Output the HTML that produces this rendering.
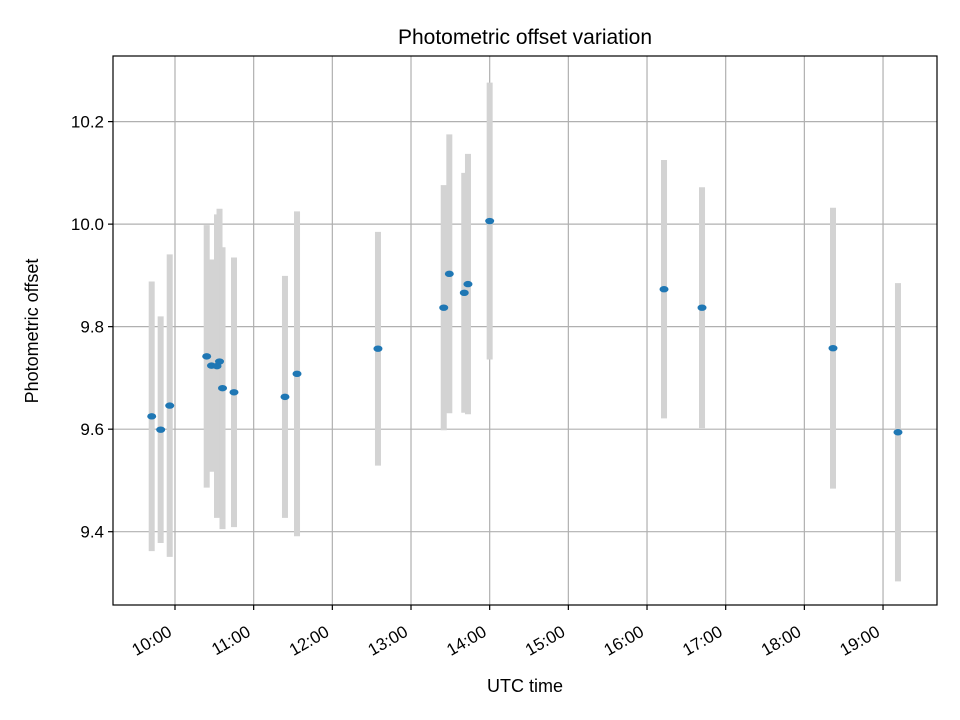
<!DOCTYPE html>
<html><head><meta charset="utf-8"><style>
body{margin:0;background:#fff;}
svg{display:block;font-family:"Liberation Sans","DejaVu Sans",sans-serif;}
</style></head><body>
<svg id="chart" width="960" height="720" xmlns="http://www.w3.org/2000/svg">
<text x="525" y="44" text-anchor="middle" font-size="21" fill="#000">Photometric offset variation</text>
<text x="525" y="692" text-anchor="middle" font-size="18" fill="#000">UTC time</text>
<text x="0" y="0" transform="translate(38,331) rotate(-90)" text-anchor="middle" font-size="18" fill="#000">Photometric offset</text>
<g id="grid"></g><g id="bars"></g><g id="pts"></g><g id="axes"></g>
</svg>
<script>
const times = [9.704,9.818,9.933,10.403,10.464,10.534,10.566,10.604,10.75,11.398,11.551,12.58,13.416,13.487,13.677,13.724,14.0,16.216,16.699,18.364,19.19];
const offsets = [9.625,9.599,9.646,9.742,9.724,9.723,9.732,9.68,9.672,9.663,9.708,9.757,9.837,9.903,9.866,9.883,10.006,9.873,9.837,9.758,9.594];
const errors = [0.263,0.221,0.295,0.256,0.207,0.296,0.298,0.275,0.263,0.236,0.317,0.228,0.239,0.272,0.234,0.254,0.27,0.252,0.235,0.274,0.291];
const xTickHours = [10,11,12,13,14,15,16,17,18,19];
const xTickLabels = ["10:00","11:00","12:00","13:00","14:00","15:00","16:00","17:00","18:00","19:00"];
const yTicks = [9.4,9.6,9.8,10.0,10.2];
const yTickLabels = ["9.4","9.6","9.8","10.0","10.2"];

const L=113,R=937,T=56,B=605;
const xMin=9.212,xMax=19.686,yMin=9.257,yMax=10.328;
const X=t=>L+(t-xMin)/(xMax-xMin)*(R-L);
const Y=v=>B-(v-yMin)/(yMax-yMin)*(B-T);
const NS="http://www.w3.org/2000/svg";
function mk(tag,attrs,parent){const e=document.createElementNS(NS,tag);for(const k in attrs)e.setAttribute(k,attrs[k]);document.getElementById(parent).appendChild(e);return e;}

xTickHours.forEach((h,i)=>{
  const x=X(h);
  const g=mk('line',{x1:x,x2:x,y1:T,y2:B,stroke:'#b0b0b0','stroke-width':1.2},'grid');
  
  
  const t=mk('line',{x1:x,x2:x,y1:B,y2:B+5,stroke:'#000','stroke-width':1.2},'axes');
  
  
  const lb=mk('text',{x:0,y:0,transform:`translate(${x-2},${B+30}) rotate(-30)`,'text-anchor':'end','font-size':17,fill:'#000'},'axes');
  lb.textContent=xTickLabels[i];
  
  
});
yTicks.forEach((v,i)=>{
  const y=Y(v);
  const g=mk('line',{x1:L,x2:R,y1:y,y2:y,stroke:'#b0b0b0','stroke-width':1.2},'grid');
  
  
  const t=mk('line',{x1:L-5,x2:L,y1:y,y2:y,stroke:'#000','stroke-width':1.2},'axes');
  
  
  const lb=mk('text',{x:L-9,y:y+6,'text-anchor':'end','font-size':17,fill:'#000'},'axes');
  lb.textContent=yTickLabels[i];
  
  
});
times.forEach((t,i)=>{
  const x=X(t);
  const b=mk('line',{x1:x,x2:x,y1:Y(offsets[i]+errors[i]),y2:Y(offsets[i]-errors[i]),stroke:'#d3d3d3','stroke-width':6},'bars');
  
  
});
times.forEach((t,i)=>{
  const p=mk('ellipse',{cx:X(t),cy:Y(offsets[i]),rx:4.5,ry:3.2,fill:'#1f77b4'},'pts');
  
  
});
const fr=mk('rect',{x:L,y:T,width:R-L,height:B-T,fill:'none',stroke:'#000','stroke-width':1.2},'axes');


</script>
</body></html>
